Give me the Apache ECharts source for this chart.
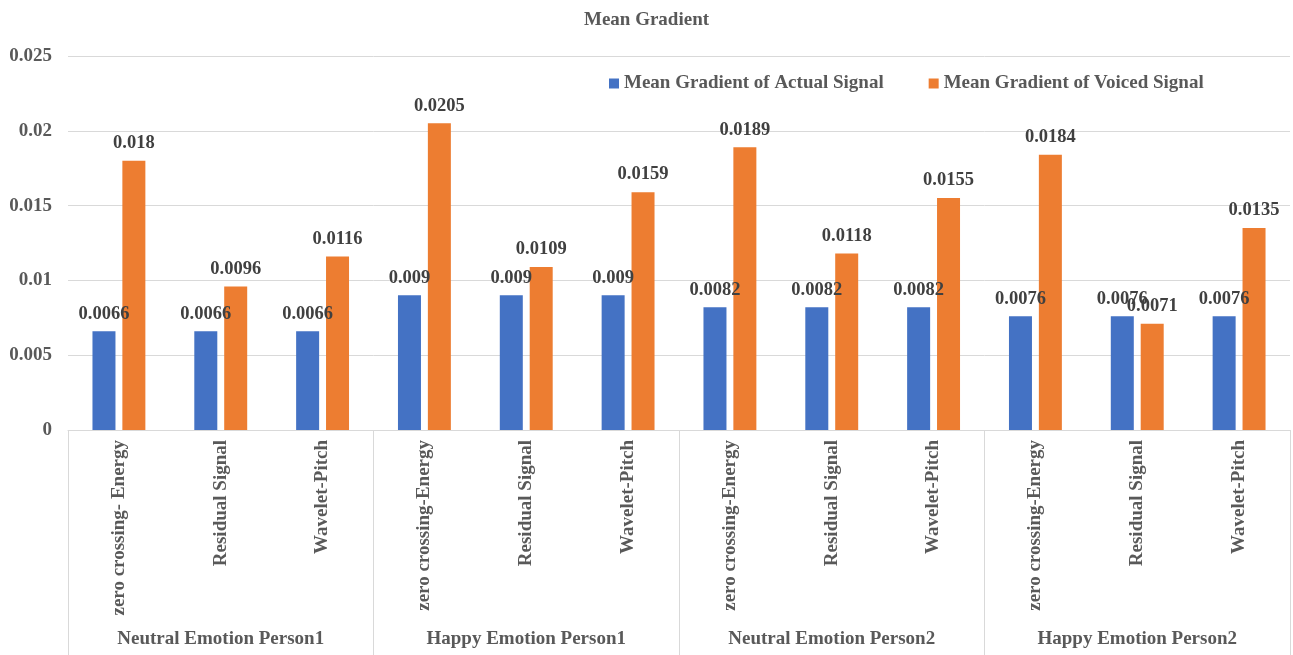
<!DOCTYPE html>
<html>
<head>
<meta charset="utf-8">
<script src="https://cdn.jsdelivr.net/npm/echarts@6/dist/echarts.min.js"></script>
<style>
  html, body { margin: 0; padding: 0; background: #fff; }
  #chart { width: 1293px; height: 655px; }
</style>
</head>
<body>
<div id="chart"></div>
<script>
// Methods within each emotion/person group
const methods = [
  'zero crossing- Energy', 'Residual Signal', 'Wavelet-Pitch',
  'zero crossing-Energy', 'Residual Signal', 'Wavelet-Pitch',
  'zero crossing-Energy', 'Residual Signal', 'Wavelet-Pitch',
  'zero crossing-Energy', 'Residual Signal', 'Wavelet-Pitch'
];
const groups = [
  'Neutral Emotion Person1', 'Happy Emotion Person1',
  'Neutral Emotion Person2', 'Happy Emotion Person2'
];
const actualSignal = [0.0066, 0.0066, 0.0066, 0.009, 0.009, 0.009, 0.0082, 0.0082, 0.0082, 0.0076, 0.0076, 0.0076];
const voicedSignal = [0.018, 0.0096, 0.0116, 0.0205, 0.0109, 0.0159, 0.0189, 0.0118, 0.0155, 0.0184, 0.0071, 0.0135];
const yTicks = { min: 0, max: 0.025, interval: 0.005 };

const FONT = '"Liberation Serif", "Times New Roman", serif';
const axisText = { color: '#595959', fontFamily: FONT, fontWeight: 'bold', fontSize: 19 };
const valueLabel = {
  show: true, position: 'top', distance: 8,
  color: '#404040', fontFamily: FONT, fontWeight: 'bold', fontSize: 18.5
};

const chart = echarts.init(document.getElementById('chart'), null, { renderer: 'canvas' });
chart.setOption({
  animation: false,
  backgroundColor: '#ffffff',
  title: {
    text: 'Mean Gradient', left: 'center', top: 6,
    textStyle: { color: '#595959', fontFamily: FONT, fontWeight: 'bold', fontSize: 19 }
  },
  legend: {
    left: 604, top: 69, itemWidth: 10, itemHeight: 10, itemGap: 45,
    icon: 'rect',
    textStyle: { color: '#595959', fontFamily: FONT, fontWeight: 'bold', fontSize: 19 }
  },
  grid: { left: 68, right: 3, top: 56, bottom: 225 },
  xAxis: [
    {
      type: 'category', data: methods, position: 'bottom',
      axisLine: { lineStyle: { color: '#d9d9d9', width: 1 } },
      axisTick: { show: false },
      axisLabel: Object.assign({ rotate: 90, interval: 0, margin: 10 }, axisText)
    },
    {
      type: 'category', data: groups, position: 'bottom',
      axisLine: { show: false },
      axisTick: { show: true, interval: 0, length: 225, lineStyle: { color: '#d9d9d9', width: 1 } },
      axisLabel: Object.assign({ interval: 0, margin: 200 }, axisText)
    }
  ],
  yAxis: {
    type: 'value', min: yTicks.min, max: yTicks.max, interval: yTicks.interval,
    axisLine: { show: false }, axisTick: { show: false },
    splitLine: { lineStyle: { color: '#d9d9d9', width: 1 } },
    axisLabel: Object.assign({ margin: 16 }, axisText)
  },
  series: [
    {
      name: 'Mean Gradient of Actual Signal', type: 'bar', xAxisIndex: 0,
      data: actualSignal, barWidth: 23, barGap: '30%',
      itemStyle: { color: '#4472C4' }, label: valueLabel
    },
    {
      name: 'Mean Gradient of Voiced Signal', type: 'bar', xAxisIndex: 0,
      data: voicedSignal, barWidth: 23, barGap: '30%',
      itemStyle: { color: '#ED7D31' }, label: valueLabel
    }
  ]
});
</script>
</body>
</html>
